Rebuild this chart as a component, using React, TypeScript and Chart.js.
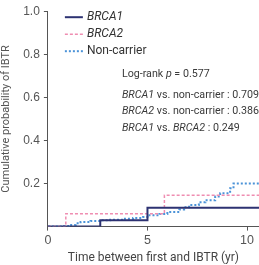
import React, { useEffect, useRef } from "react";
import { Chart, registerables } from "chart.js";

Chart.register(...registerables);

const brca1Times = [0, 2.63, 5.0, 10.6];
const brca1Values = [0, 0.03, 0.088, 0.088];
const brca2Times = [0, 0.9, 5.85, 10.6];
const brca2Values = [0, 0.06, 0.145, 0.145];
const nonCarrierTimes = [0, 0.8, 1.06, 1.4, 1.64, 2.14, 2.63, 3.13, 3.79, 4.28, 4.78, 5.1, 5.6, 6.0, 6.6, 6.84, 7.09, 7.58, 7.91, 8.4, 8.65, 9.15, 9.32, 10.6];
const nonCarrierValues = [0, 0.003, 0.008, 0.015, 0.021, 0.026, 0.029, 0.032, 0.037, 0.04, 0.044, 0.053, 0.059, 0.068, 0.079, 0.09, 0.1, 0.113, 0.122, 0.14, 0.155, 0.178, 0.2, 0.2];

const seriesNames = ["BRCA1", "BRCA2", "Non-carrier"];
const seriesItalic = [true, true, false];
const xTicks = [0, 5, 10];
const yTicks = [0.2, 0.4, 0.6, 0.8, 1.0];

const annotationLines: [string, boolean][][] = [
  [["Log-rank ", false], ["p", true], [" = 0.577", false]],
  [["BRCA1", true], [" vs. non-carrier : 0.709", false]],
  [["BRCA2", true], [" vs. non-carrier : 0.386", false]],
  [["BRCA1", true], [" vs. ", false], ["BRCA2", true], [" : 0.249", false]],
];

const colors = ["#2d3272", "#ef8db1", "#4b93d8"];
const dashes = [[], [3, 2], [2, 2]];
const widths = [2, 1.5, 2];

const toPts = (t: number[], v: number[]) => t.map((x, i) => ({ x, y: v[i] }));

const FONT = "Roboto, 'Liberation Sans', sans-serif";
const TICKFONT = "'Liberation Sans', Arial, sans-serif";

const overlayPlugin = {
  id: "overlay",
  afterDatasetsDraw(chart: any) {
    const ctx = chart.ctx as CanvasRenderingContext2D;
    const { left, top } = chart.chartArea;
    ctx.save();
    ctx.textBaseline = "middle";
    seriesNames.forEach((name, i) => {
      const y = top + 6 + i * 17;
      ctx.beginPath();
      ctx.strokeStyle = colors[i];
      ctx.lineWidth = widths[i];
      ctx.setLineDash(dashes[i]);
      ctx.moveTo(left + 17, y);
      ctx.lineTo(left + 35, y);
      ctx.stroke();
      ctx.setLineDash([]);
      ctx.fillStyle = "#333";
      ctx.font = `${seriesItalic[i] ? "italic " : ""}12px ${FONT}`;
      ctx.fillText(name, left + 39, y);
    });
    const rowY = [63, 84, 100, 117];
    annotationLines.forEach((segs, r) => {
      let x = left + 74;
      const y = top + rowY[r];
      segs.forEach(([s, it]) => {
        ctx.font = `${it ? "italic " : ""}10.7px ${FONT}`;
        ctx.fillStyle = "#3a3a3a";
        ctx.fillText(s, x, y);
        x += ctx.measureText(s).width;
      });
    });
    ctx.restore();
  },
};

export default function App() {
  const ref = useRef<HTMLCanvasElement>(null);
  useEffect(() => {
    if (!ref.current) return;
    const chart = new Chart(ref.current, {
      type: "line",
      data: {
        datasets: [
          { label: seriesNames[0], data: toPts(brca1Times, brca1Values) },
          { label: seriesNames[1], data: toPts(brca2Times, brca2Values) },
          { label: seriesNames[2], data: toPts(nonCarrierTimes, nonCarrierValues) },
        ].map((d, i) => ({
          ...d,
          stepped: true,
          borderColor: colors[i],
          borderWidth: widths[i],
          borderDash: dashes[i],
          pointRadius: 0,
          fill: false,
        })) as any,
      },
      options: {
        animation: false,
        responsive: true,
        maintainAspectRatio: false,
        layout: { padding: { top: 0, right: 0, left: 0, bottom: 0 } },
        plugins: { legend: { display: false }, tooltip: { enabled: false } },
        scales: {
          x: {
            type: "linear",
            min: 0,
            max: 10.6,
            afterBuildTicks: (ax: any) => {
              ax.ticks = xTicks.map((v) => ({ value: v }));
            },
            ticks: { color: "#555", font: { size: 12.5, family: TICKFONT }, padding: 2, maxRotation: 0 },
            grid: { drawOnChartArea: false, tickLength: 4, color: "#555" },
            border: { display: true, color: "#555", width: 1 },
            title: { display: true, text: "Time between first and IBTR (yr)", color: "#444", font: { size: 12, family: FONT }, padding: { top: 1, bottom: 0 } },
          },
          y: {
            type: "linear",
            min: 0,
            max: 1,
            afterBuildTicks: (ax: any) => {
              ax.ticks = yTicks.map((v) => ({ value: v }));
            },
            ticks: { color: "#555", font: { size: 12, family: TICKFONT }, padding: 4, callback: (v: any) => Number(v).toFixed(1) },
            grid: { drawOnChartArea: false, tickLength: 4, color: "#555" },
            border: { display: true, color: "#555", width: 1 },
            title: { display: true, text: "Cumulative probability of IBTR", color: "#555", font: { size: 11, family: FONT }, padding: { top: 0, bottom: 6 } },
          },
        },
      },
      plugins: [overlayPlugin],
    });
    return () => chart.destroy();
  }, []);
  return (
    <div style={{ position: "fixed", left: 0, top: 0, width: 259, height: 265 }}>
      <canvas ref={ref} />
    </div>
  );
}
